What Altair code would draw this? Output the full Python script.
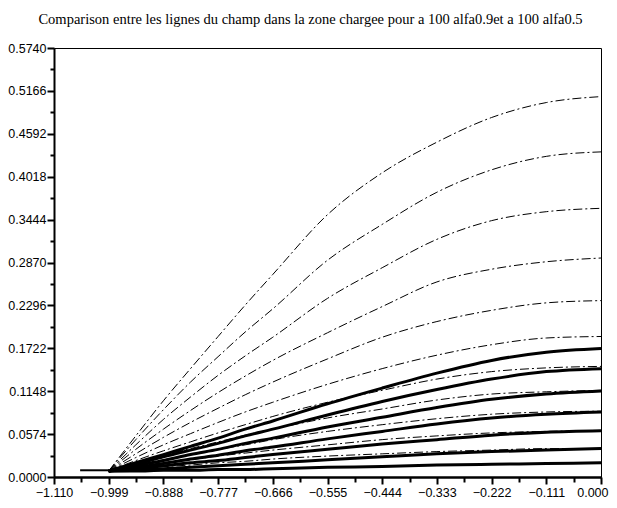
import altair as alt
import pandas as pd

TITLE = "Comparison entre les lignes du champ dans la zone chargee pour a 100 alfa0.9et a 100 alfa0.5"

x_grid = [-0.999, -0.944, -0.888, -0.833, -0.777, -0.722, -0.666, -0.555, -0.444, -0.333, -0.222, -0.111, 0.0]

# thin dash-dot field lines (alfa 0.9)
dash_lines = [
    [0.008, 0.055, 0.102, 0.145, 0.188, 0.230, 0.271, 0.351, 0.407, 0.448, 0.481, 0.501, 0.509],
    [0.008, 0.050, 0.090, 0.127, 0.161, 0.194, 0.225, 0.290, 0.338, 0.381, 0.411, 0.429, 0.435],
    [0.008, 0.043, 0.077, 0.107, 0.136, 0.162, 0.187, 0.239, 0.280, 0.318, 0.343, 0.355, 0.3595],
    [0.008, 0.037, 0.064, 0.089, 0.113, 0.135, 0.156, 0.193, 0.228, 0.261, 0.278, 0.288, 0.293],
    [0.008, 0.031, 0.053, 0.073, 0.092, 0.110, 0.127, 0.158, 0.187, 0.208, 0.223, 0.233, 0.236],
    [0.008, 0.026, 0.043, 0.058, 0.073, 0.087, 0.100, 0.124, 0.145, 0.163, 0.177, 0.186, 0.188],
    [0.008, 0.022, 0.035, 0.047, 0.059, 0.070, 0.081, 0.100, 0.116, 0.131, 0.141, 0.146, 0.148],
    [0.008, 0.019, 0.029, 0.038, 0.047, 0.056, 0.064, 0.079, 0.091, 0.103, 0.111, 0.114, 0.116],
    [0.008, 0.016, 0.023, 0.030, 0.037, 0.043, 0.050, 0.061, 0.070, 0.078, 0.084, 0.087, 0.088],
    [0.008, 0.013, 0.018, 0.023, 0.028, 0.032, 0.036, 0.043, 0.050, 0.055, 0.059, 0.061, 0.062],
    [0.008, 0.011, 0.014, 0.016, 0.019, 0.021, 0.024, 0.028, 0.031, 0.034, 0.036, 0.038, 0.038],
]

# thick solid field lines (alfa 0.5)
thick_lines = [
    [0.008, 0.019, 0.030, 0.041, 0.052, 0.064, 0.075, 0.098, 0.119, 0.139, 0.156, 0.167, 0.172],
    [0.008, 0.017, 0.027, 0.036, 0.045, 0.055, 0.064, 0.083, 0.101, 0.117, 0.131, 0.141, 0.145],
    [0.008, 0.015, 0.022, 0.030, 0.037, 0.045, 0.052, 0.067, 0.080, 0.093, 0.104, 0.111, 0.115],
    [0.008, 0.013, 0.018, 0.024, 0.029, 0.035, 0.040, 0.051, 0.061, 0.071, 0.079, 0.084, 0.087],
    [0.008, 0.011, 0.015, 0.019, 0.022, 0.026, 0.030, 0.037, 0.044, 0.050, 0.056, 0.060, 0.062],
    [0.008, 0.009, 0.011, 0.013, 0.015, 0.017, 0.019, 0.023, 0.027, 0.031, 0.034, 0.036, 0.038],
    [0.008, 0.008, 0.009, 0.009, 0.010, 0.010, 0.011, 0.013, 0.014, 0.016, 0.017, 0.018, 0.019],
]

# short lead segment before the charged zone
lead_x = [-1.057, -0.999]
lead_y = [0.009, 0.009]

y_ticks = [round(i * 0.0287, 4) for i in range(21)]
x_ticks = [round(-1.110 + i * 0.0555, 4) for i in range(21)]

rows_d = []
for i, ys in enumerate(dash_lines):
    for xv, yv in zip(x_grid, ys):
        rows_d.append({"x": xv, "y": yv, "s": f"d{i}"})
rows_t = []
for i, ys in enumerate(thick_lines):
    for xv, yv in zip(x_grid, ys):
        rows_t.append({"x": xv, "y": yv, "s": f"t{i}"})
rows_l = [{"x": xv, "y": yv, "s": "lead"} for xv, yv in zip(lead_x, lead_y)]

df_d = pd.DataFrame(rows_d)
df_t = pd.DataFrame(rows_t)
df_l = pd.DataFrame(rows_l)

lab_font = "Liberation Sans"

y_major = "abs(datum.value/0.0574 - round(datum.value/0.0574)) < 0.01"
x_major = "abs(datum.value/0.111 - round(datum.value/0.111)) < 0.01"

xs = alt.X("x:Q", scale=alt.Scale(domain=[-1.11, 0], nice=False, zero=False),
           axis=alt.Axis(values=x_ticks, title=None, grid=False,
                         labelExpr=f"{x_major} ? format(datum.value, '.3f') : ''",
                         tickSize={"condition": {"test": x_major, "value": 7}, "value": 5},
                         labelAlign={"condition": {"test": "datum.value > -0.01", "value": "right"},
                                     "value": "center"},
                         labelOffset={"condition": {"test": "datum.value > -0.01", "value": 7},
                                      "value": 0},
                         tickWidth=2, tickColor="black", domainColor="black", domainWidth=2.5,
                         labelFont=lab_font, labelFontSize=12.5, labelColor="black",
                         labelPadding=2, labelFlush=False, labelOverlap=False))
ys = alt.Y("y:Q", scale=alt.Scale(domain=[0, 0.574], nice=False, zero=False),
           axis=alt.Axis(values=y_ticks, title=None, grid=False,
                         labelExpr=f"{y_major} ? format(datum.value, '.4f') : ''",
                         tickSize={"condition": {"test": y_major, "value": 7}, "value": 4},
                         tickWidth=2, tickColor="black", domainColor="black", domainWidth=2,
                         labelFont=lab_font, labelFontSize=12.5, labelColor="black",
                         labelPadding=1, labelFlush=False, labelOverlap=False))

thin = alt.Chart(df_d).mark_line(color="black", strokeWidth=1, strokeDash=[9, 3, 2, 3],
                                 interpolate="monotone").encode(x=xs, y=ys, detail="s:N")
thick = alt.Chart(df_t).mark_line(color="black", strokeWidth=3,
                                  interpolate="monotone").encode(x=xs, y=ys, detail="s:N")
lead = alt.Chart(df_l).mark_line(color="black", strokeWidth=2).encode(x=xs, y=ys, detail="s:N")

chart = alt.layer(thin, thick, lead).properties(
    width=547, height=429,
    title=alt.TitleParams(TITLE, font="Liberation Serif", fontSize=14.5, fontWeight="normal",
                          color="black", anchor="middle", offset=15, dx=-17),
    padding={"left": 46, "top": 40, "right": 8, "bottom": 22},
    autosize=alt.AutoSizeParams(type="none"),
).configure_view(stroke="black", strokeWidth=1)

chart.save("out.html", embed_options={"renderer": "svg", "actions": False})
